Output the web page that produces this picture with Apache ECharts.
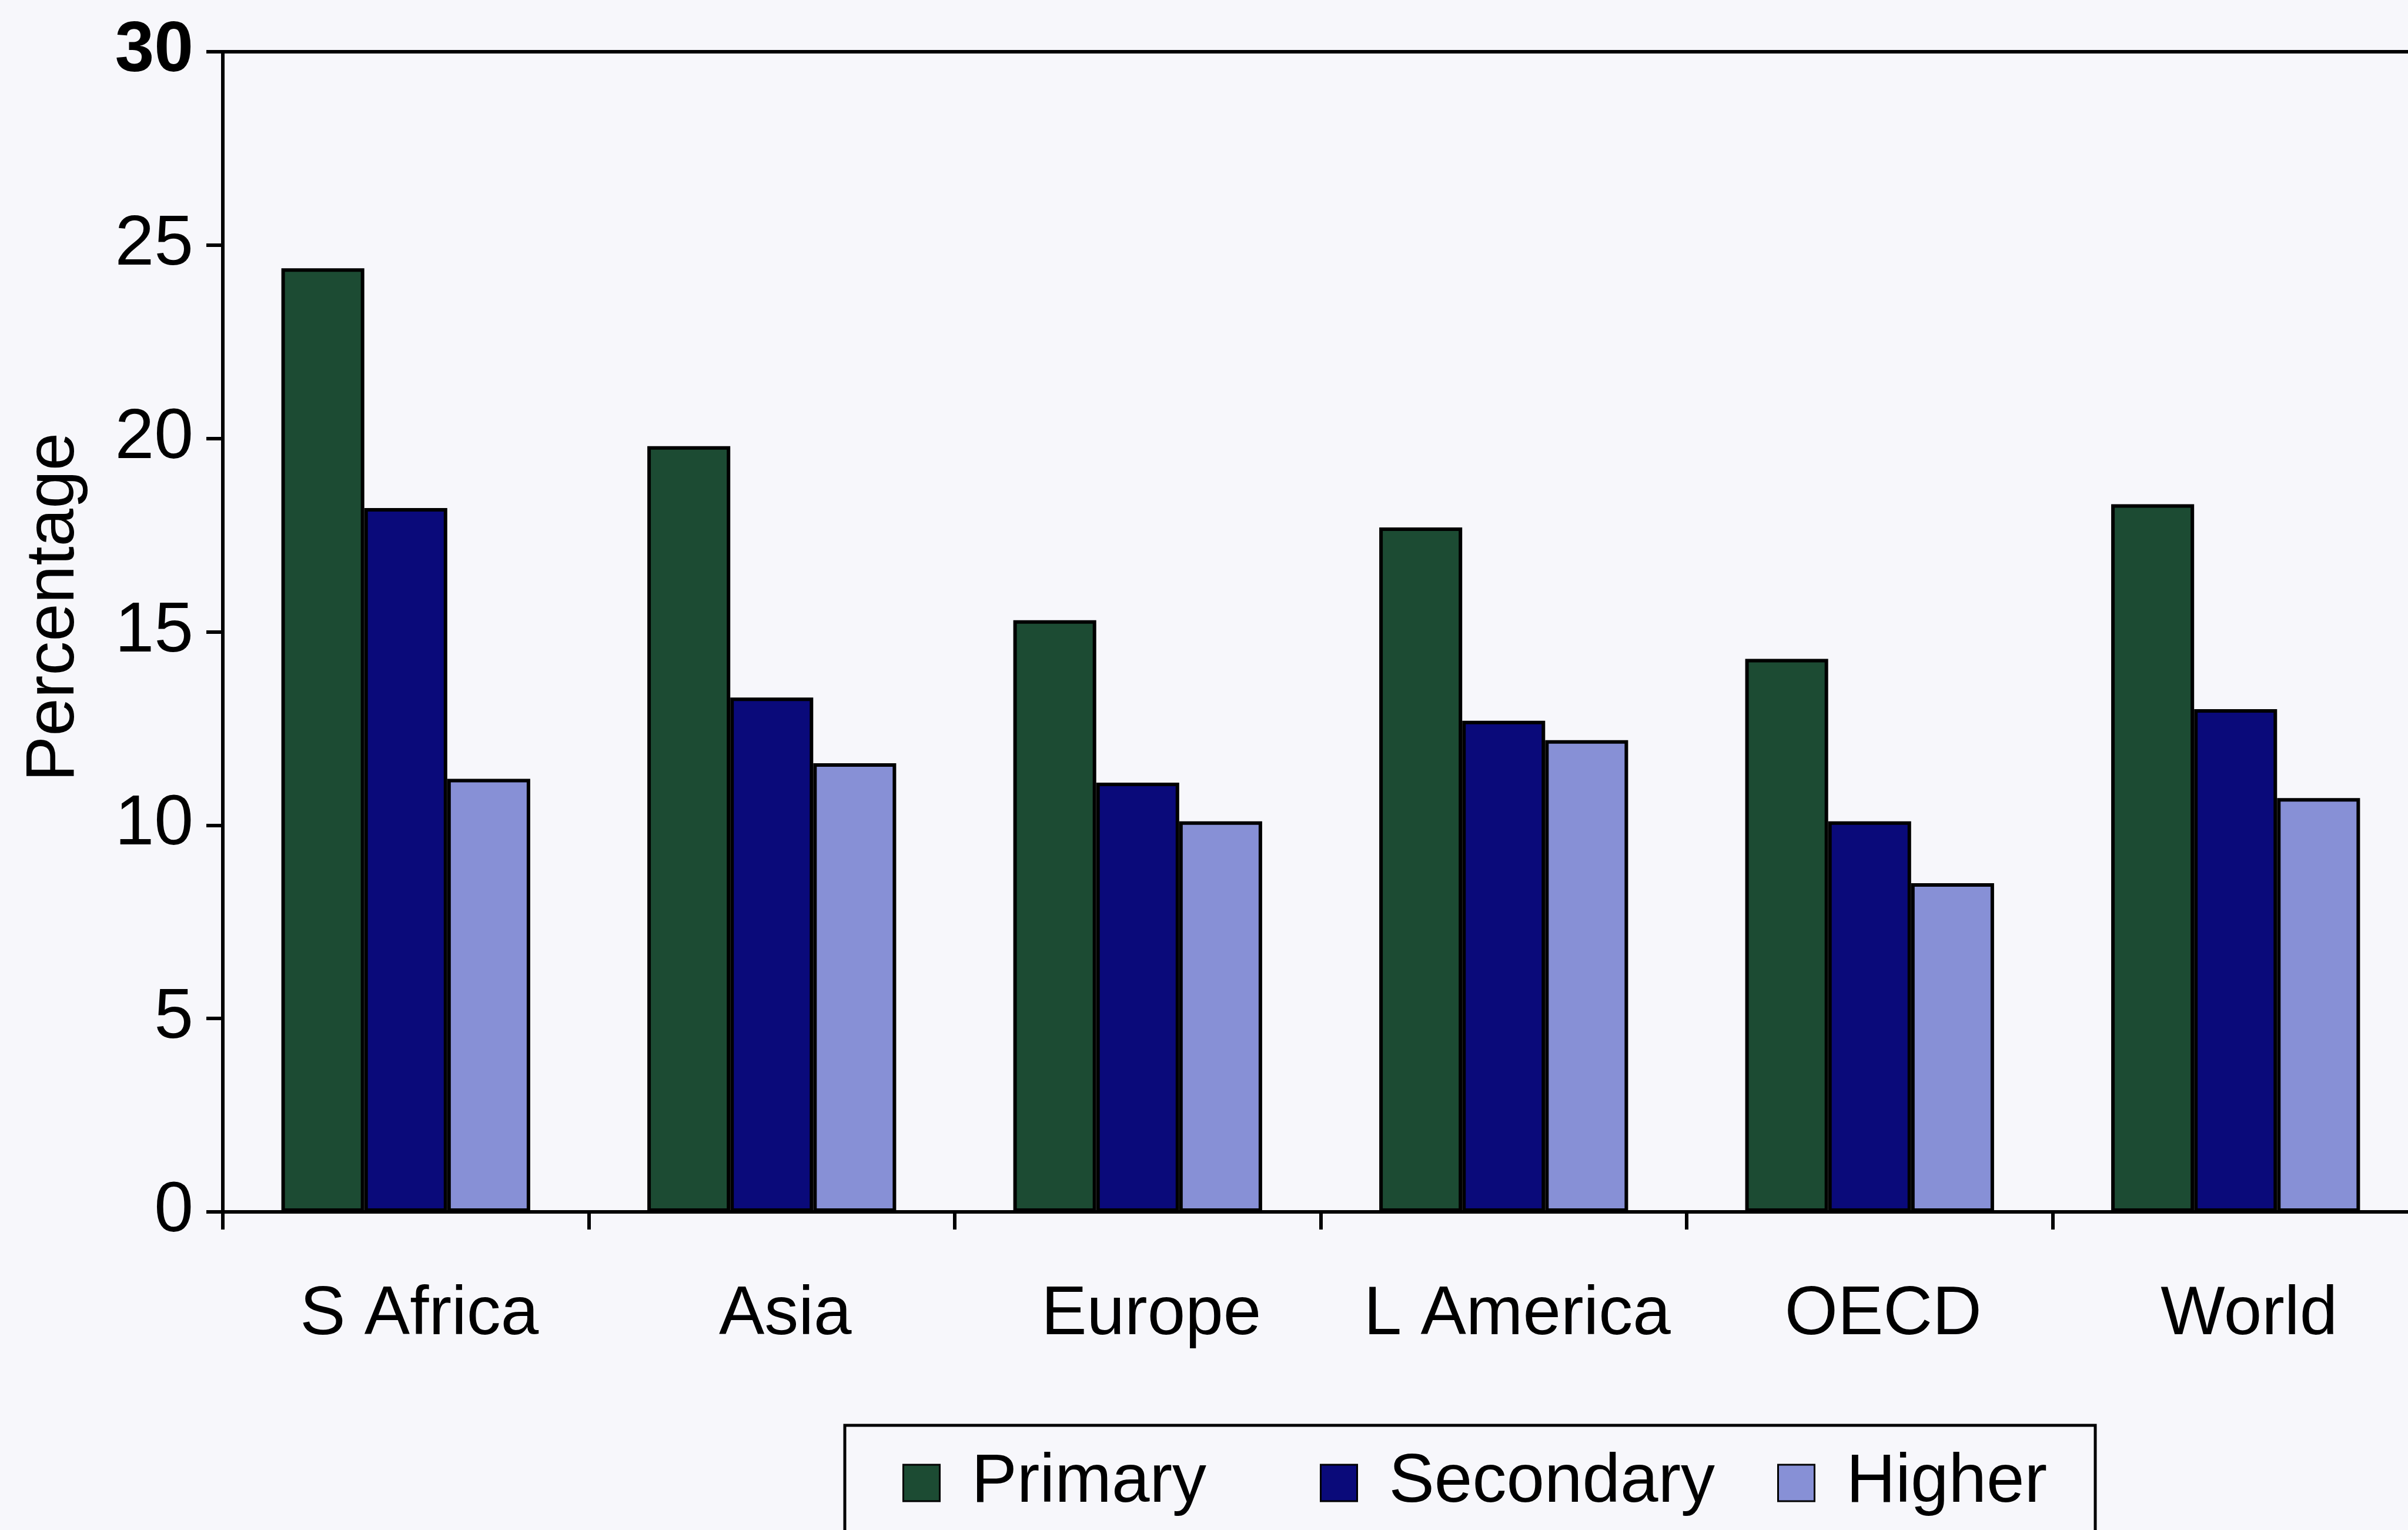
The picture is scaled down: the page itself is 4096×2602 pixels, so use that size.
<!DOCTYPE html>
<html>
<head>
<meta charset="utf-8">
<script src="https://cdn.jsdelivr.net/npm/echarts@6/dist/echarts.min.js"></script>
<style>
  html, body { margin: 0; padding: 0; background: #f7f7fb; }
  #chart { width: 4096px; height: 2602px; }
</style>
</head>
<body>
<div id="chart"></div>
<script>
  // categories and values
  const categories = ['S Africa', 'Asia', 'Europe', 'L America', 'OECD', 'World']
  const primary = [24.4, 19.8, 15.3, 17.7, 14.3, 18.3]
  const secondary = [18.2, 13.3, 11.1, 12.7, 10.1, 13.0]
  const higher = [11.2, 11.6, 10.1, 12.2, 8.5, 10.7]
  const seriesNames = ['Primary', 'Secondary', 'Higher']

  const font = 'Liberation Sans'
  const colors = ['#1c4b33', '#0a0a7a', '#8790d6']

  const chart = echarts.init(document.getElementById('chart'))

  /* bar style shared by the three series */
  function bar(name, data, i) {
    return {
      name: name,
      type: 'bar',
      data: data,
      barGap: '0%',
      barCategoryGap: '32%',
      itemStyle: { color: colors[i], borderColor: '#000', borderWidth: 6 }
    }
  }

  /* one legend per entry, so each sits where it is in the picture */
  function legendItem(name, left, padding, withBox) {
    return {
      data: [name],
      left: left,
      top: withBox ? 2424 : 2464,
      padding: padding,
      itemWidth: 160, itemHeight: 62,
      icon: 'path://M0,0L10,0L10,10L0,10Z',
      symbolKeepAspect: true,
      borderColor: '#000', borderWidth: withBox ? 5 : 0,
      backgroundColor: 'transparent',
      itemStyle: { borderColor: '#000', borderWidth: 3 },
      textStyle: { fontFamily: font, fontSize: 116, color: '#000' }
    }
  }

  chart.setOption({
    backgroundColor: '#f7f7fb',
    animation: false,
    textStyle: { fontFamily: font },
    grid: {
      left: 379, top: 88, right: -18, bottom: 541,
      show: true, borderColor: '#000', borderWidth: 6,
      backgroundColor: 'transparent',
      outerBoundsMode: 'none'
    },
    legend: [
      legendItem('Primary', 1437, [40, 1512, 200, 98], true),
      legendItem('Secondary', 2245, 0, false),
      legendItem('Higher', 3023, 0, false)
    ],
    xAxis: {
      type: 'category',
      data: categories,
      axisLine: { lineStyle: { color: '#000', width: 6 } },
      axisTick: { show: true, length: 30, lineStyle: { color: '#000', width: 6 } },
      axisLabel: {
        color: '#000', fontFamily: font, fontSize: 116,
        margin: 118, padding: [0, 0, 0, 46], interval: 0
      },
      splitLine: { show: false }
    },
    yAxis: {
      type: 'value',
      min: 0, max: 30, interval: 5,
      name: 'Percentage',
      nameLocation: 'middle',
      nameGap: 228,
      nameRotate: 90,
      nameTextStyle: { color: '#000', fontFamily: font, fontSize: 116, padding: [0, 0, 0, 84] },
      axisLine: { show: true, lineStyle: { color: '#000', width: 6 } },
      axisTick: { show: true, length: 28, lineStyle: { color: '#000', width: 6 } },
      axisLabel: {
        color: '#000', fontFamily: font, fontSize: 120, margin: 50,
        formatter: function (v) { return v === 30 ? '{b|30}' : String(v) },
        rich: { b: { fontFamily: font, fontSize: 120, fontWeight: 'bold', color: '#000' } }
      },
      splitLine: { show: false }
    },
    series: [
      bar(seriesNames[0], primary, 0),
      bar(seriesNames[1], secondary, 1),
      bar(seriesNames[2], higher, 2)
    ]
  })
</script>
</body>
</html>
